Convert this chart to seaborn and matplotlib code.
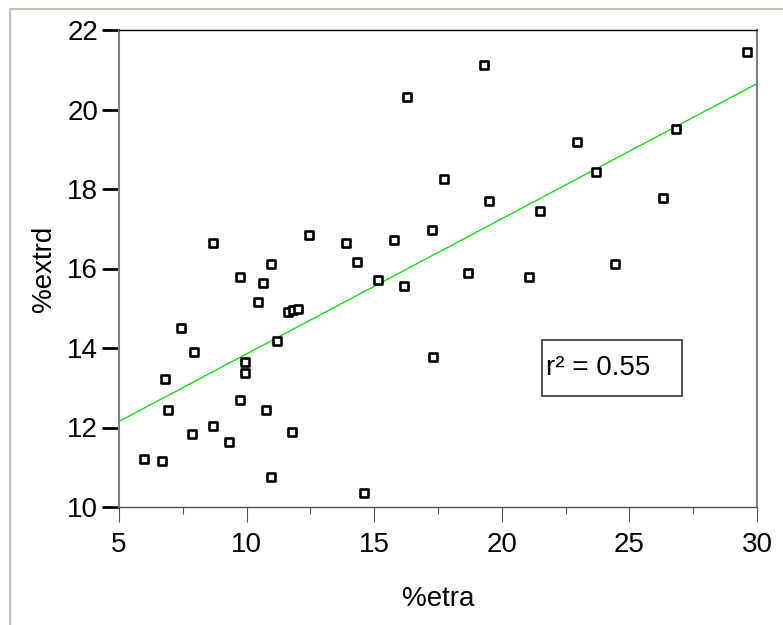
import numpy as np
import pandas as pd
import matplotlib
matplotlib.use("Agg")
import matplotlib.pyplot as plt
from matplotlib.patches import Rectangle
from matplotlib.ticker import MultipleLocator
import seaborn as sns

# values
etra = [29.62, 19.32, 16.29, 26.81, 22.96, 23.68, 17.75, 19.51, 26.31, 21.50,
        17.25, 12.45, 15.76, 8.68, 13.90, 14.31, 10.97, 24.42, 18.69, 21.07,
        9.73, 15.14, 10.65, 16.15, 10.45, 11.61, 11.80, 12.03, 7.42, 11.18,
        7.95, 17.32, 9.94, 9.94, 6.82, 9.73, 6.91, 10.76, 8.68, 7.85,
        11.79, 9.31, 5.97, 6.70, 10.97, 14.61]
extrd = [21.45, 21.12, 20.31, 19.52, 19.17, 18.44, 18.24, 17.71, 17.77, 17.44,
         16.98, 16.84, 16.71, 16.64, 16.64, 16.17, 16.11, 16.11, 15.89, 15.78,
         15.78, 15.70, 15.64, 15.57, 15.16, 14.90, 14.96, 14.97, 14.50, 14.18,
         13.90, 13.77, 13.64, 13.36, 13.23, 12.69, 12.43, 12.43, 12.03, 11.83,
         11.89, 11.63, 11.22, 11.16, 10.75, 10.35]
x_ticks = [5, 10, 15, 20, 25, 30]
y_ticks = [10, 12, 14, 16, 18, 20, 22]
r2_label = "r² = 0.55"

df = pd.DataFrame({"etra": etra, "extrd": extrd})

sns.set_style("white")
plt.rcParams["font.family"] = ["Liberation Sans", "DejaVu Sans"]
plt.rcParams["text.color"] = "black"
plt.rcParams["axes.labelcolor"] = "black"
plt.rcParams["xtick.labelcolor"] = "black"
plt.rcParams["ytick.labelcolor"] = "black"

fig = plt.figure(figsize=(7.83, 6.25), dpi=100)
ax = fig.add_axes([119 / 783, 118 / 625, 638 / 783, 477 / 625])

# outer frame of the original screenshot
fig.patches.append(Rectangle((10 / 783, -0.05), 1.2, (625 - 9) / 625 + 0.05,
                             transform=fig.transFigure, fill=False,
                             edgecolor="#c4c2b6", linewidth=1.5))

ax.set_xlim(x_ticks[0], x_ticks[-1])
ax.set_ylim(y_ticks[0], y_ticks[-1])

sns.regplot(data=df, x="etra", y="extrd", ax=ax, scatter=False, ci=None,
            truncate=False, line_kws={"color": "#00dd00", "linewidth": 0.9})
sns.scatterplot(data=df, x="etra", y="extrd", ax=ax, marker="s", s=34,
                facecolor="white", edgecolor="black", linewidth=1.9, zorder=3)

ax.set_xticks(x_ticks)
ax.set_yticks(y_ticks)
ax.xaxis.set_minor_locator(MultipleLocator(2.5))
ax.tick_params(axis="x", which="major", direction="out", length=11, width=0.8,
               color="#505050", labelsize=20, labelcolor="black", pad=7, bottom=True)
ax.tick_params(axis="x", which="minor", direction="out", length=5, width=0.8,
               color="#505050", bottom=True)
ax.tick_params(axis="y", which="major", direction="out", length=12, width=2,
               color="black", labelsize=20, labelcolor="black", pad=3, left=True)

for side in ["left", "right"]:
    ax.spines[side].set_color("#808080")
    ax.spines[side].set_linewidth(1.5)
ax.spines["top"].set_color("black")
ax.spines["top"].set_linewidth(1)
ax.spines["bottom"].set_color("#505050")
ax.spines["bottom"].set_linewidth(1)

ax.set_xlabel("%etra", fontsize=20, labelpad=20, color="black")
ax.set_ylabel("%extrd", fontsize=20, labelpad=7, color="black")

ax.add_patch(Rectangle((0.6626, 0.2327), 0.2204, 0.1173, transform=ax.transAxes,
                       fill=False, edgecolor="#303030", linewidth=1.2, zorder=4))
ax.text(0.670, 0.291, r2_label, transform=ax.transAxes, fontsize=20,
        ha="left", va="center", color="black", zorder=5)

fig.savefig("out.png", dpi=100)
